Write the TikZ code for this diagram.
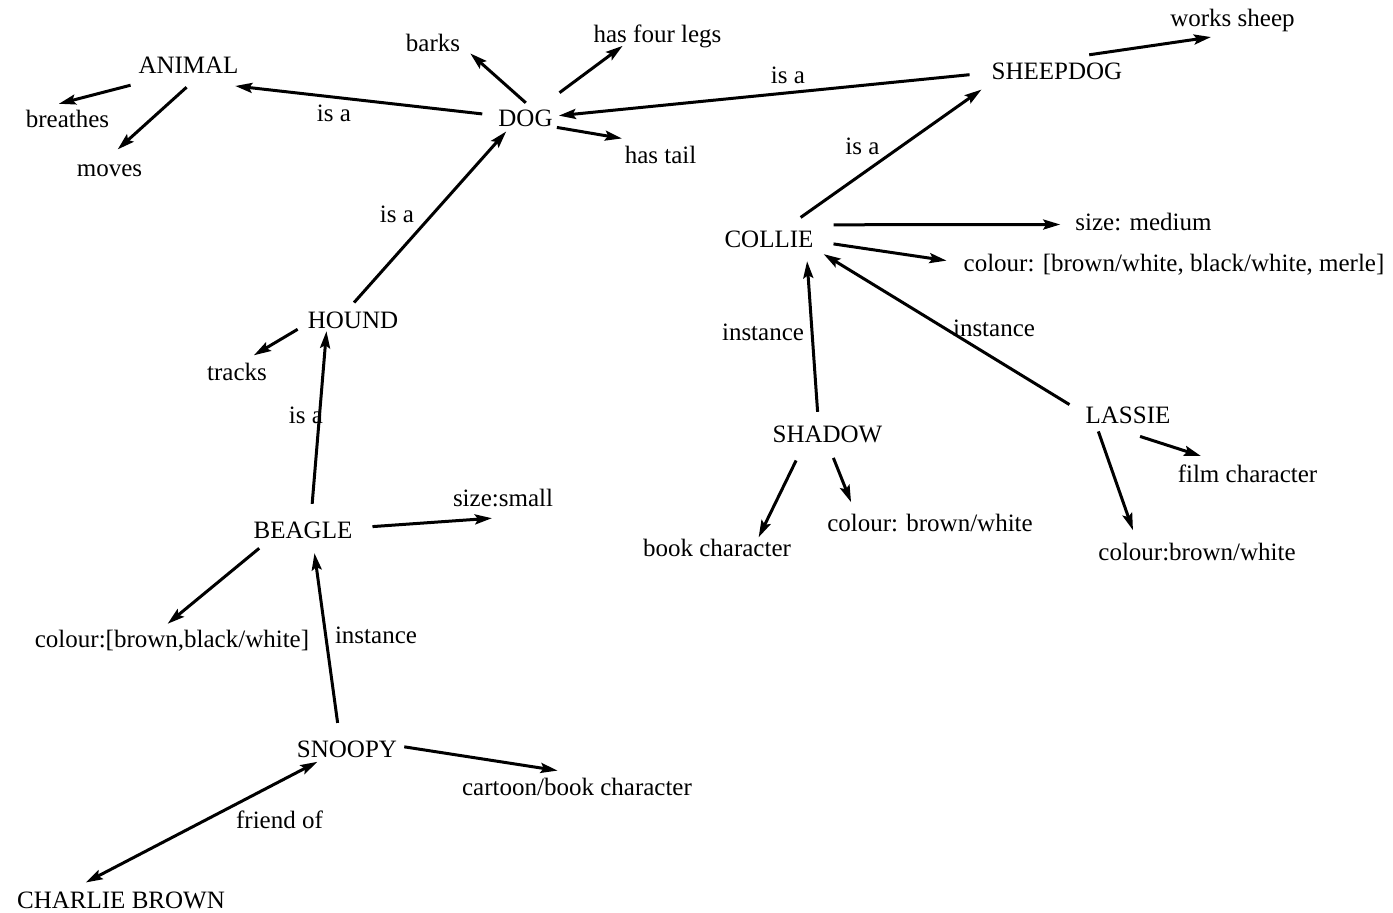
\documentclass[tikz,border=0pt]{standalone}
\usepackage{fontspec}
\setmainfont{Liberation Serif}
\usetikzlibrary{arrows.meta}
\begin{document}
\begin{tikzpicture}[x=1pt,y=-1pt,
  t/.style={font=\fontsize{25}{30}\selectfont, inner xsep=10pt, inner ysep=6pt,
            text height=17pt, text depth=6pt, anchor=base},
  lab/.style={font=\fontsize{25}{30}\selectfont, inner sep=1pt, anchor=base},
  arr/.style={line width=3pt, -{Stealth[length=17pt,width=10pt,inset=3pt]}},
  darr/.style={line width=3pt, {Stealth[length=17pt,width=10pt,inset=3pt]}-{Stealth[length=17pt,width=10pt,inset=3pt]}}]
\useasboundingbox[fill=white] (0,0) rectangle (1393,913);
% concept nodes
\node[t] (animal)   at (188.5,73)  {ANIMAL};
\node[t] (breathes) at (67.5,127)  {breathes};
\node[t] (moves)    at (109.5,176) {moves};
\node[t] (dog)      at (525.5,126) {DOG};
\node[t] (barks)    at (433,51)    {barks};
\node[t] (legs)     at (657.5,42)  {has four legs};
\node[t] (tail)     at (660.5,163) {has tail};
\node[t] (sheepdog) at (1057,79)   {SHEEPDOG};
\node[t] (works)    at (1232.5,26) {works sheep};
\node[t] (collie)   at (769,247)   {COLLIE};
\node[t] (sizem)    at (1143.5,230) {size: medium};
\node[t] (merle)    at (1174,271)  {colour: [brown/white, black/white, merle]};
\node[t] (shadow)   at (827.5,442) {SHADOW};
\node[t] (lassie)   at (1128,423)  {LASSIE};
\node[t] (book)     at (717,556)   {book character};
\node[t] (colours)  at (930,531)   {colour: brown/white};
\node[t] (film)     at (1247.5,482) {film character};
\node[t] (colourl)  at (1197,560)  {colour:brown/white};
\node[t] (hound)    at (353,328)   {HOUND};
\node[t] (tracks)   at (237,380)   {tracks};
\node[t] (beagle)   at (303,538)   {BEAGLE};
\node[t] (small)    at (503,506)   {size:small};
\node[t] (colourb)  at (172,647)   {colour:[brown,black/white]};
\node[t] (snoopy)   at (347,757)   {SNOOPY};
\node[t] (cartoon)  at (577,795)   {cartoon/book character};
\node[t] (charlie)  at (121,908)   {CHARLIE BROWN};
% edge labels
\node[lab] (l1) at (334,121)   {is a};
\node[lab] (l2) at (397,222)   {is a};
\node[lab] (l3) at (788,83)    {is a};
\node[lab] (l4) at (862.5,154) {is a};
\node[lab] (l5) at (306,423)   {is a};
\node[lab] (l6) at (763,340)   {instance};
\node[lab] (l7) at (994,336)   {instance};
\node[lab] (l8) at (376,643)   {instance};
\node[lab] (l9) at (279.5,828) {friend of};
% connectors
\draw[arr] (animal.197) -- (breathes.116);
\draw[arr, shorten <=3pt, shorten >=5pt] (animal.271) -- (moves.76);
\draw[arr, shorten <=6pt, shorten >=7pt] (dog.171) -- (animal.336);
\draw[arr] (dog.89) -- (barks.348);
\draw[arr, shorten <=17pt, shorten >=-14pt] (dog.41) -- (legs.201);
\draw[arr, shorten <=-6pt, shorten >=8pt] (dog.348) -- (tail.150);
\draw[arr, shorten <=12pt, shorten >=-4pt] (sheepdog.180) -- (dog.8);
\draw[arr, shorten <=7pt, shorten >=-8pt] (sheepdog.35) -- (works.211);
\draw[arr, shorten <=11pt] (collie.38) -- (sheepdog.192);
\draw[arr, shorten <=10pt, shorten >=5pt] (collie.17) -- (sizem.180);
\draw[arr, shorten <=10pt, shorten >=7pt] (collie.359) -- (merle.179);
\draw[arr, shorten <=7pt, shorten >=2pt] (shadow.118) -- (collie.335);
\draw[arr, shorten <=7pt] (lassie.170) -- (collie.347);
\draw[arr, shorten <=7pt, shorten >=-5pt] (shadow.212) -- (book.22);
\draw[arr, shorten <=4pt, shorten >=6pt] (shadow.284) -- (colours.167);
\draw[arr, shorten <=-4pt, shorten >=7pt] (lassie.212) -- (colourl.164);
\draw[arr, shorten <=4pt, shorten >=9pt] (lassie.295) -- (film.155);
\draw[arr, shorten <=3pt, shorten >=-9pt] (hound.93) -- (dog.215);
\draw[arr, shorten >=3pt] (hound.187) -- (tracks.51);
\draw[arr, shorten <=11pt, shorten >=-9pt] (beagle.65) -- (hound.213);
\draw[arr, shorten <=10pt] (beagle.5) -- (small.238);
\draw[arr, shorten <=-3pt] (beagle.201) -- (colourb.104);
\draw[arr, shorten <=11pt, shorten >=3pt] (snoopy.114) -- (beagle.302);
\draw[arr, shorten <=-3pt, shorten >=8pt] (snoopy.4) -- (cartoon.123);
\draw[darr, shorten <=-16pt, shorten >=5pt] (snoopy.202) -- (charlie.156);
\end{tikzpicture}
\end{document}
